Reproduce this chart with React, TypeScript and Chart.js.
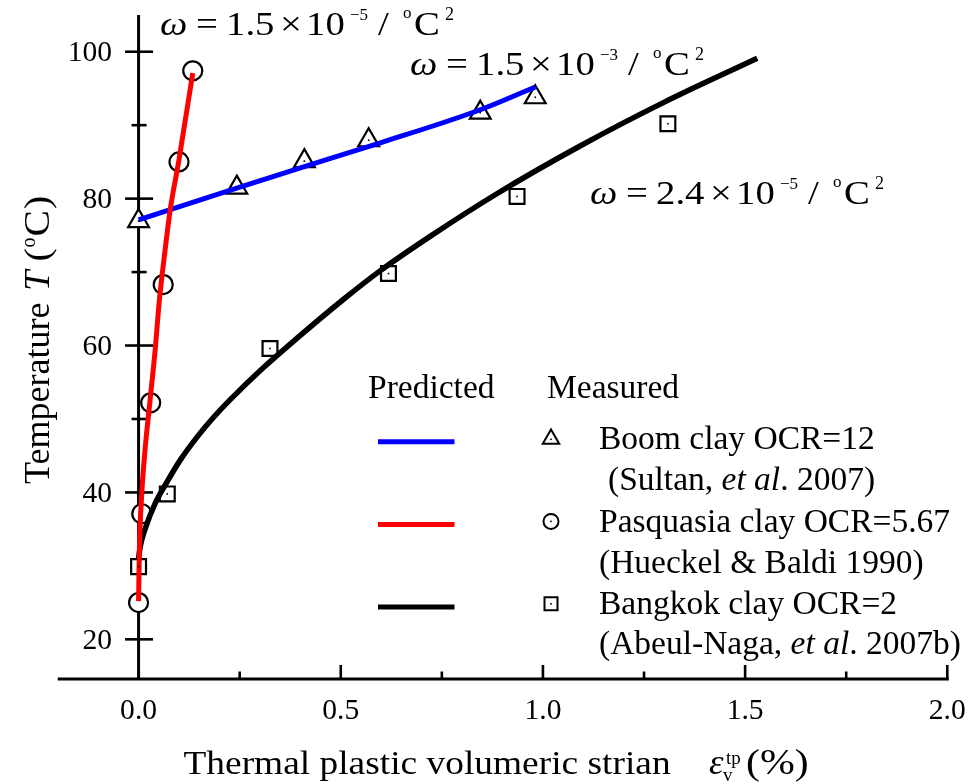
import React, { useEffect, useRef } from "react";
import { Chart, registerables } from "chart.js";

Chart.register(...registerables);

// ---------- axes ----------
const xMin = -0.2;
const xMax = 2.0;
const yMin = 14.6;
const yMax = 105;
const xMajorTicks = [0.0, 0.5, 1.0, 1.5, 2.0];
const xMinorTicks = [0.25, 0.75, 1.25, 1.75];
const xTickLabels = ["0.0", "0.5", "1.0", "1.5", "2.0"];
const yMajorTicks = [20, 40, 60, 80, 100];
const yMinorTicks = [30, 50, 70, 90];
const yTickLabels = ["20", "40", "60", "80", "100"];

// ---------- predicted curves ----------
const boomPredX = [0.0, 0.235, 0.412, 0.598, 0.845, 0.981];
const boomPredY = [77.1, 81.3, 84.4, 87.6, 92.1, 95.2];

const pasqPredX = [0.0, 0.002, 0.008, 0.016, 0.0285, 0.041, 0.0515, 0.0656, 0.078, 0.1, 0.134];
const pasqPredY = [25.2, 32.2, 39.9, 45.8, 52.6, 59.4, 66.2, 73.0, 78.4, 85.3, 97.1];

const bangPredX = [0.0, 0.004, 0.016, 0.041, 0.07, 0.103, 0.144, 0.185, 0.226, 0.309, 0.392, 0.507, 0.598, 0.722, 0.887, 1.093, 1.299, 1.53];
const bangPredY = [31.0, 32.6, 35.0, 38.5, 41.4, 44.4, 47.5, 50.2, 52.6, 57.0, 61.0, 66.3, 70.2, 74.9, 80.7, 87.2, 93.1, 99.1];

// ---------- measured ----------
const boomMeasX = [0.0, 0.243, 0.41, 0.569, 0.845, 0.981];
const boomMeasY = [76.95, 81.5, 85.1, 87.95, 91.7, 93.8];

const pasqMeasX = [0.0, 0.008, 0.03, 0.061, 0.1, 0.134];
const pasqMeasY = [25.0, 37.1, 52.2, 68.3, 85.0, 97.4];

const bangMeasX = [0.0, 0.071, 0.325, 0.618, 0.936, 1.309];
const bangMeasY = [29.9, 39.8, 59.6, 69.8, 80.3, 90.2];

// ---------- texts ----------
const xTitle = "Thermal plastic volumeric strian";
const yTitle = "Temperature";
const legendHeadPred = "Predicted";
const legendHeadMeas = "Measured";
const annotNumbers = ["1.5", "1.5", "2.4"];
const annotExps = ["\u22125", "\u22123", "\u22125"];

const FONT = '"Liberation Serif", "Times New Roman", serif';

const pts = (xs: number[], ys: number[]) => xs.map((x, i) => ({ x, y: ys[i] }));

function txt(
  ctx: CanvasRenderingContext2D,
  s: string,
  x: number,
  y: number,
  size: number,
  o: { italic?: boolean; sx?: number; align?: CanvasTextAlign } = {}
) {
  const sx = o.sx ?? 1;
  ctx.save();
  ctx.font = `${o.italic ? "italic " : ""}${size}px ${FONT}`;
  ctx.textAlign = o.align ?? "left";
  ctx.textBaseline = "alphabetic";
  ctx.fillStyle = "#000";
  ctx.translate(x, y);
  ctx.scale(sx, 1);
  ctx.fillText(s, 0, 0);
  const w = ctx.measureText(s).width * sx;
  ctx.restore();
  return w;
}

function drawTri(ctx: CanvasRenderingContext2D, x: number, y: number, r: number) {
  ctx.beginPath();
  ctx.moveTo(x, y - r);
  ctx.lineTo(x + r * Math.sin((2 * Math.PI) / 3), y - r * Math.cos((2 * Math.PI) / 3));
  ctx.lineTo(x + r * Math.sin((4 * Math.PI) / 3), y - r * Math.cos((4 * Math.PI) / 3));
  ctx.closePath();
  ctx.fill();
  ctx.stroke();
}

const overlay = {
  id: "overlay",
  beforeDatasetsDraw(chart: any) {
    const { ctx, chartArea, scales } = chart;
    const xs = scales.x;
    const ys = scales.y;
    const x0 = xs.getPixelForValue(0);
    ctx.save();
    ctx.strokeStyle = "#000";
    ctx.lineWidth = 3;
    ctx.lineCap = "butt";
    ctx.beginPath();
    ctx.moveTo(chartArea.left, chartArea.bottom);
    ctx.lineTo(chartArea.right + 1.5, chartArea.bottom);
    ctx.stroke();
    ctx.beginPath();
    ctx.moveTo(x0, chartArea.top);
    ctx.lineTo(x0, chartArea.bottom);
    ctx.stroke();
    ctx.lineWidth = 2.6;
    xMajorTicks.forEach((v) => {
      if (v === 0) return;
      const p = xs.getPixelForValue(v);
      ctx.beginPath();
      ctx.moveTo(p, chartArea.bottom);
      ctx.lineTo(p, chartArea.bottom - 14);
      ctx.stroke();
    });
    xMinorTicks.forEach((v) => {
      const p = xs.getPixelForValue(v);
      ctx.beginPath();
      ctx.moveTo(p, chartArea.bottom);
      ctx.lineTo(p, chartArea.bottom - 7.5);
      ctx.stroke();
    });
    yMajorTicks.forEach((v) => {
      const p = ys.getPixelForValue(v);
      ctx.beginPath();
      ctx.moveTo(x0 - 13.5, p);
      ctx.lineTo(x0 + 14.5, p);
      ctx.stroke();
    });
    yMinorTicks.forEach((v) => {
      const p = ys.getPixelForValue(v);
      ctx.beginPath();
      ctx.moveTo(x0 - 7, p);
      ctx.lineTo(x0 + 8, p);
      ctx.stroke();
    });
    ctx.restore();
  },
  afterDatasetsDraw(chart: any) {
    const { ctx, chartArea, scales } = chart;
    const xs = scales.x;
    const ys = scales.y;
    const x0 = xs.getPixelForValue(0);

    ctx.save();
    ctx.fillStyle = "#000";
    [3, 5].forEach((di) => {
      chart.getDatasetMeta(di).data.forEach((el: any) => {
        ctx.fillRect(el.x - 0.8, el.y - 0.8, 1.6, 1.6);
      });
    });
    ctx.restore();

    // tick labels
    xMajorTicks.forEach((v, i) => {
      txt(ctx, xTickLabels[i], xs.getPixelForValue(v), chartArea.bottom + 40, 29, { align: "center", sx: 1.02 });
    });
    yMajorTicks.forEach((v, i) => {
      txt(ctx, yTickLabels[i], x0 - 26.5, ys.getPixelForValue(v) + 9.5, 29, { align: "right", sx: 1.02 });
    });

    // x title
    const bx = 773.5;
    txt(ctx, xTitle, 183.5, bx, 34, { sx: 1.1 });
    txt(ctx, "\u03b5", 709, bx, 35, { italic: true, sx: 1.05 });
    txt(ctx, "tp", 726, bx - 10, 19);
    txt(ctx, "v", 723, bx + 7, 19);
    txt(ctx, "(%)", 746, bx, 36, { sx: 1.16 });

    // y title (rotated)
    ctx.save();
    ctx.translate(48.5, 484);
    ctx.rotate(-Math.PI / 2);
    let cx = 0;
    cx += txt(ctx, yTitle, cx, 0, 36);
    cx += 12;
    cx += txt(ctx, "T", cx, 0, 36, { italic: true });
    cx += 9;
    cx += txt(ctx, "(", cx, 0, 36, { sx: 1.1 });
    cx += txt(ctx, "o", cx + 1, -14, 20);
    cx += 2;
    cx += txt(ctx, "C", cx, 0, 36, { sx: 1.1 });
    txt(ctx, ")", cx + 1, 0, 36, { sx: 1.1 });
    ctx.restore();

    // omega annotations
    const annotPos = [
      [160, 35],
      [410, 75],
      [590, 203.5],
    ];
    annotPos.forEach(([ax, ay], i) => {
      const s = 1.14;
      const f = 34;
      txt(ctx, "\u03c9", ax, ay, f, { italic: true, sx: s });
      txt(ctx, "=", ax + 36, ay, f, { sx: s });
      txt(ctx, annotNumbers[i], ax + 66, ay, f, { sx: s });
      txt(ctx, "\u00d7", ax + 120, ay, f, { sx: s });
      txt(ctx, "10", ax + 146, ay, f, { sx: s });
      txt(ctx, annotExps[i], ax + 190, ay - 15, 17);
      txt(ctx, "/", ax + 218, ay, f, { sx: s });
      txt(ctx, "o", ax + 243, ay - 17, 17);
      txt(ctx, "C", ax + 254, ay, f, { sx: s });
      txt(ctx, "2", ax + 285, ay - 15, 18);
    });

    // legend
    const lf = 33.5;
    txt(ctx, legendHeadPred, 368, 398, lf);
    txt(ctx, legendHeadMeas, 547, 398, lf);
    const lineYs = [441.7, 524.4, 607.1];
    const lineCols = ["#0000ff", "#ff0000", "#000000"];
    ctx.save();
    ctx.lineWidth = 5;
    lineYs.forEach((ly, i) => {
      ctx.strokeStyle = lineCols[i];
      ctx.beginPath();
      ctx.moveTo(378, ly);
      ctx.lineTo(454.5, ly);
      ctx.stroke();
    });
    ctx.strokeStyle = "#000";
    ctx.fillStyle = "#fff";
    ctx.lineWidth = 2;
    drawTri(ctx, 551, 439, 9.5);
    ctx.beginPath();
    ctx.arc(551, 521.4, 7.5, 0, Math.PI * 2);
    ctx.fill();
    ctx.stroke();
    ctx.beginPath();
    ctx.rect(544.5, 597.3, 13, 13);
    ctx.fill();
    ctx.stroke();
    ctx.fillStyle = "#000";
    ctx.fillRect(550.2, 438.5, 1.6, 1.6);
    ctx.fillRect(550.2, 520.6, 1.6, 1.6);
    ctx.fillRect(550.2, 603, 1.6, 1.6);
    ctx.restore();

    const lx = 599;
    txt(ctx, "Boom clay OCR=12", lx, 448.5, lf);
    let px = 608;
    px += txt(ctx, "(Sultan, ", px, 490, lf);
    px += txt(ctx, "et al", px, 490, lf, { italic: true });
    txt(ctx, ". 2007)", px, 490, lf);
    txt(ctx, "Pasquasia clay OCR=5.67", lx, 531.5, lf);
    txt(ctx, "(Hueckel & Baldi 1990)", lx, 572.7, lf);
    txt(ctx, "Bangkok clay OCR=2", lx, 613.9, lf);
    px = lx;
    px += txt(ctx, "(Abeul-Naga, ", px, 653.7, lf);
    px += txt(ctx, "et al", px, 653.7, lf, { italic: true });
    txt(ctx, ". 2007b)", px, 653.7, lf);
  },
};

export default function App() {
  const ref = useRef<HTMLCanvasElement>(null);
  useEffect(() => {
    document.body.style.margin = "0";
    const lineBase = { showLine: true, pointRadius: 0, pointHoverRadius: 0, cubicInterpolationMode: "monotone" as const, fill: false };
    const markBase = { showLine: false, borderColor: "#000", backgroundColor: "#fff", borderWidth: 2.2 };
    const chart = new Chart(ref.current!, {
      type: "scatter",
      data: {
        datasets: [
          { ...lineBase, label: "Pasquasia predicted", data: pts(pasqPredX, pasqPredY), borderColor: "#ff0000", borderWidth: 5, order: 0 },
          { ...lineBase, label: "Boom predicted", data: pts(boomPredX, boomPredY), borderColor: "#0000ff", borderWidth: 5, order: 1 },
          { ...lineBase, label: "Bangkok predicted", data: pts(bangPredX, bangPredY), borderColor: "#000000", borderWidth: 5.5, order: 2 },
          { ...markBase, label: "Boom measured", data: pts(boomMeasX, boomMeasY), pointStyle: "triangle", pointRadius: 12, order: 3 },
          { ...markBase, label: "Pasquasia measured", data: pts(pasqMeasX, pasqMeasY), pointStyle: "circle", pointRadius: 9.5, order: 3 },
          { ...markBase, label: "Bangkok measured", data: pts(bangMeasX, bangMeasY), pointStyle: "rect", pointRadius: 10.5, order: 3 },
        ] as any,
      },
      options: {
        animation: false,
        responsive: false,
        devicePixelRatio: 1,
        layout: { padding: { left: 57.7, right: 28.7, top: 15, bottom: 105 } },
        scales: {
          x: { type: "linear", min: xMin, max: xMax, display: false },
          y: { type: "linear", min: yMin, max: yMax, display: false },
        },
        plugins: { legend: { display: false }, tooltip: { enabled: false } },
        events: [],
      },
      plugins: [overlay],
    });
    return () => chart.destroy();
  }, []);
  return (
    <div style={{ position: "absolute", left: 0, top: 0, width: 976, height: 784, background: "#fff" }}>
      <canvas ref={ref} width={976} height={784} style={{ width: 976, height: 784, display: "block" }} />
    </div>
  );
}
